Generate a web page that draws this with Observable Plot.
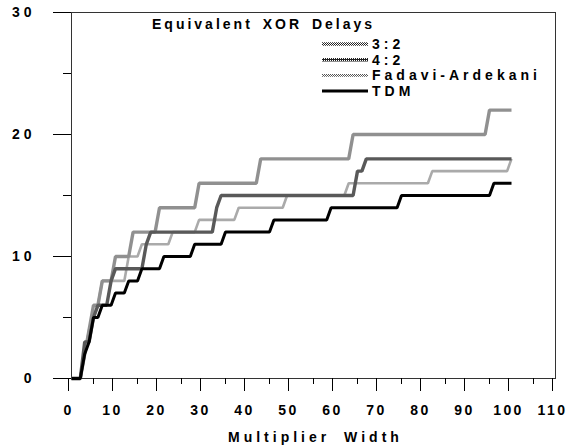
<!DOCTYPE html>
<html>
<head>
<meta charset="utf-8">
<script src="https://cdn.jsdelivr.net/npm/d3@7"></script>
<script src="https://cdn.jsdelivr.net/npm/@observablehq/plot@0.6"></script>
<style>
  html, body { margin: 0; padding: 0; background: #fff; }
  #chart svg text { letter-spacing: 3px; }
  #chart svg g[aria-label="x-axis tick label"] text { letter-spacing: 2.4px; }
  #chart svg g[aria-label="y-axis tick label"] text { letter-spacing: 4px; }
</style>
</head>
<body>
<div id="chart"></div>
<script>
// ---- data (breakpoints) ----
const seriesNames = ["3:2", "4:2", "Fadavi-Ardekani", "TDM"];

const width32 = [0, 2, 3, 4, 5, 6, 7, 9, 10, 13, 14, 19, 20, 28, 29, 42, 43, 63, 64, 94, 95, 100];
const delay32 = [0, 0, 2, 4, 6, 6, 8, 8, 10, 10, 12, 12, 14, 14, 16, 16, 18, 18, 20, 20, 22, 22];

const width42 = [0, 2, 3, 4, 5, 6, 8, 9, 10, 16, 17, 18, 32, 33, 34, 64, 65, 66, 67, 100];
const delay42 = [0, 0, 3, 3, 5, 6, 6, 8, 9, 9, 11, 12, 12, 14, 15, 15, 17, 17, 18, 18];

const widthFA = [0, 2, 3, 4, 5, 6, 7, 12, 13, 15, 16, 22, 23, 28, 29, 37, 38, 48, 49, 62, 63, 81, 82, 99, 100];
const delayFA = [0, 0, 2, 4, 5, 6, 8, 8, 10, 10, 11, 11, 12, 12, 13, 13, 14, 14, 15, 15, 16, 16, 17, 17, 18];

const widthTDM = [0, 2, 3, 4, 5, 6, 7, 9, 10, 12, 13, 15, 16, 20, 21, 27, 28, 34, 35, 45, 46, 58, 59, 74, 75, 95, 96, 100];
const delayTDM = [0, 0, 2, 3, 5, 5, 6, 6, 7, 7, 8, 8, 9, 9, 10, 10, 11, 11, 12, 12, 13, 13, 14, 14, 15, 15, 16, 16];

const xTicks = [0, 10, 20, 30, 40, 50, 60, 70, 80, 90, 100, 110];
const xMinorTicks = [5, 15, 25, 35, 45, 55, 65, 75, 85, 95, 105];
const yTicks = [0, 10, 20, 30];
const yMinorTicks = [5, 15, 25];

const chartTitle = "Equivalent XOR Delays";
const xLabel = "Multiplier Width";

// ---- table ----
const seriesData = [
  [width32, delay32],
  [width42, delay42],
  [widthFA, delayFA],
  [widthTDM, delayTDM]
];
const rows = [];
seriesNames.forEach((name, i) => {
  const [ws, ds] = seriesData[i];
  ws.forEach((w, j) => rows.push({series: name, width: w, delay: ds[j]}));
});

// ---- styles ----
const styles = {
  "3:2": {stroke: "url(#pat32)", strokeWidth: 3.4},
  "4:2": {stroke: "url(#pat42)", strokeWidth: 3.4},
  "Fadavi-Ardekani": {stroke: "url(#patFA)", strokeWidth: 2.6},
  "TDM": {stroke: "#000", strokeWidth: 3}
};
const drawOrder = ["Fadavi-Ardekani", "3:2", "4:2", "TDM"];
const font = "'Liberation Sans', Arial, Helvetica, sans-serif";

const plot = Plot.plot({
  width: 568,
  height: 446,
  marginLeft: 71,
  marginRight: 13,
  marginTop: 12,
  marginBottom: 68,
  style: {fontFamily: font, fontSize: "14px", fontWeight: "bold", background: "#fff", color: "#000"},
  x: {domain: [0, 110]},
  y: {domain: [0, 30]},
  marks: [
    Plot.frame({stroke: "#333", strokeWidth: 1}),
    Plot.axisY(yTicks, {tickSize: 18, tickPadding: 18, label: null, fontSize: 14, fontWeight: "bold"}),
    Plot.axisY(yMinorTicks, {tickSize: 8, text: null, label: null}),
    Plot.axisX(xTicks, {tickSize: 13, tickPadding: 14, label: null, fontSize: 14, fontWeight: "bold", dx: -3}),
    Plot.axisX(xMinorTicks, {tickSize: 6, text: null, label: null}),
    ...drawOrder.map(name => Plot.line(rows.filter(d => d.series === name), {
      x: "width", y: "delay",
      stroke: styles[name].stroke,
      strokeWidth: styles[name].strokeWidth,
      strokeLinejoin: "miter",
      strokeLinecap: "butt"
    }))
  ]
});

document.getElementById("chart").appendChild(plot);

// ---- halftone patterns, title, legend, axis label ----
const svg = d3.select(plot);
const defs = svg.insert("defs", ":first-child");
function checker(id, bg, fg, cells) {
  const p = defs.append("pattern").attr("id", id).attr("patternUnits", "userSpaceOnUse")
    .attr("width", 2).attr("height", 2);
  p.append("rect").attr("width", 2).attr("height", 2).attr("fill", bg);
  cells.forEach(([cx, cy]) => p.append("rect").attr("x", cx).attr("y", cy).attr("width", 1).attr("height", 1).attr("fill", fg));
}
checker("pat32", "#fff", "#222", [[0, 0], [1, 1]]);
checker("pat42", "#222", "#fff", [[0, 0]]);
checker("patFA", "#fff", "#555", [[0, 0], [1, 1]]);

const g = svg.append("g")
  .attr("font-family", font).attr("font-weight", "bold").attr("font-size", 14)
  .attr("fill", "#000").attr("text-anchor", "start");

g.append("text").attr("x", 152).attr("y", 29).style("word-spacing", "3px").text(chartTitle);

seriesNames.forEach((name, i) => {
  const cy = 44 + i * 15.7;
  g.append("line").attr("x1", 322).attr("x2", 368).attr("y1", cy).attr("y2", cy)
    .attr("stroke", styles[name].stroke).attr("stroke-width", styles[name].strokeWidth);
  g.append("text").attr("x", 372).attr("y", cy + 5).style("letter-spacing", "4px").text(name);
});

g.append("text").attr("x", 228).attr("y", 442)
  .style("letter-spacing", "4px").style("word-spacing", "6px").text(xLabel);
</script>
</body>
</html>
